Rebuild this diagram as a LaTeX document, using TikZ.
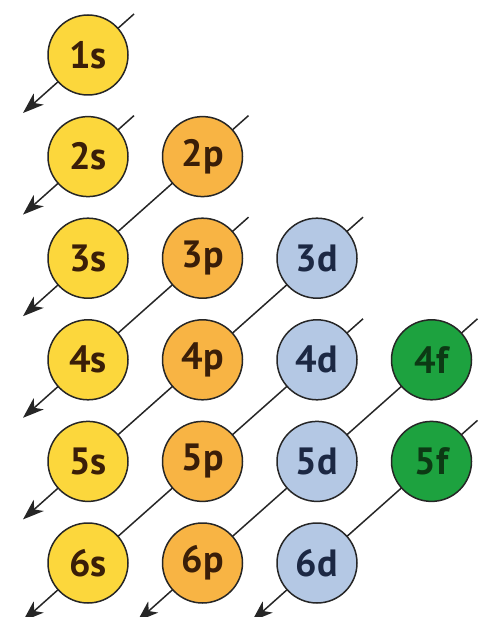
\documentclass[tikz,border=0pt]{standalone}
\usepackage{fontspec}
\setmainfont{PT Sans}
\usepackage{xcolor}
\usepackage{tikz}
\usetikzlibrary{arrows.meta,positioning,calc,backgrounds}

\definecolor{sfill}{HTML}{FCD73C}
\definecolor{pfill}{HTML}{F8B444}
\definecolor{dfill}{HTML}{B4C8E4}
\definecolor{ffill}{HTML}{1DA23F}
\definecolor{brown}{HTML}{3A1E08}
\definecolor{navy}{HTML}{1C2843}
\definecolor{dgreen}{HTML}{0C3A14}

\begin{document}
\begin{tikzpicture}[
    node distance=21.6pt and 34.5pt,
    orb/.style={circle, draw=black!85, line width=1.5pt, minimum size=80pt, inner sep=0pt, outer sep=0pt, font=\fontsize{38}{38}\selectfont\bfseries},
    sorb/.style={orb, fill=sfill, text=brown},
    porb/.style={orb, fill=pfill, text=brown},
    dorb/.style={orb, fill=dfill, text=navy},
    forb/.style={orb, fill=ffill, text=dgreen},
    arrow/.style={-{Stealth[length=21pt, width=15pt, inset=6pt]}, line width=1.5pt, black!85}
]
    \useasboundingbox (0,0) rectangle (479pt,-617pt);

    % s column
    \node[sorb] (s1) at (88pt,-55pt) {1s};
    \node[sorb, below=of s1] (s2) {2s};
    \node[sorb, below=of s2] (s3) {3s};
    \node[sorb, below=of s3] (s4) {4s};
    \node[sorb, below=of s4] (s5) {5s};
    \node[sorb, below=of s5] (s6) {6s};

    % p column
    \node[porb, right=of s2] (p2) {2p};
    \node[porb, below=of p2] (p3) {3p};
    \node[porb, below=of p3] (p4) {4p};
    \node[porb, below=of p4] (p5) {5p};
    \node[porb, below=of p5] (p6) {6p};

    % d column
    \node[dorb, right=of p3] (d3) {3d};
    \node[dorb, below=of d3] (d4) {4d};
    \node[dorb, below=of d4] (d5) {5d};
    \node[dorb, below=of d5] (d6) {6d};

    % f column
    \node[forb, right=of d4] (f4) {4f};
    \node[forb, below=of f4] (f5) {5f};

    % Diagonals
    \begin{scope}[on background layer]
        \draw[arrow] ($(s1)+(46pt,41pt)$) -- ($(s1)+(-65pt,-58pt)$);
        \draw[arrow] ($(s2)+(46pt,41pt)$) -- ($(s2)+(-65pt,-58pt)$);
        \draw[arrow] ($(p2)+(46pt,41pt)$) -- (s3.center) -- ($(s3)+(-65pt,-58pt)$);
        \draw[arrow] ($(p3)+(46pt,41pt)$) -- (s4.center) -- ($(s4)+(-65pt,-58pt)$);
        \draw[arrow] ($(d3)+(46pt,41pt)$) -- (s5.center) -- ($(s5)+(-65pt,-58pt)$);
        \draw[arrow] ($(d4)+(46pt,41pt)$) -- (s6.center) -- ($(s6)+(-65pt,-58pt)$);
        \draw[arrow] ($(f4)+(46pt,41pt)$) -- (p6.center) -- ($(p6)+(-65pt,-58pt)$);
        \draw[arrow] ($(f5)+(46pt,41pt)$) -- (d6.center) -- ($(d6)+(-65pt,-58pt)$);
    \end{scope}
\end{tikzpicture}
\end{document}
